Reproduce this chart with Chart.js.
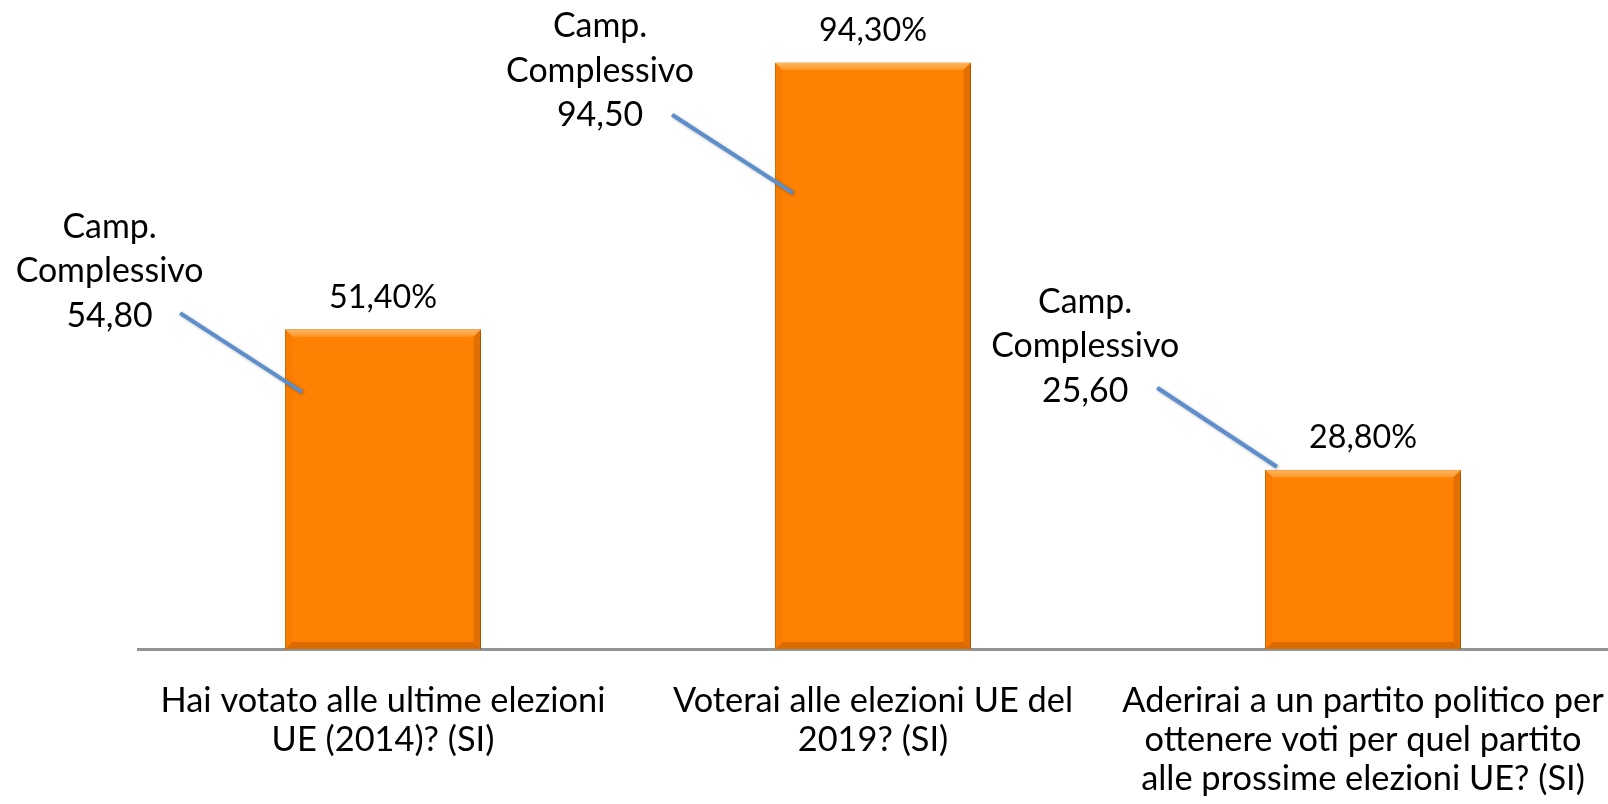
<!DOCTYPE html>
<html><head><meta charset="utf-8">
<script src="https://cdn.jsdelivr.net/npm/chart.js@4.4.0/dist/chart.umd.min.js"></script>
<style>html,body{margin:0;padding:0;background:#fff;overflow:hidden}#wrap{width:1608px;height:804px}</style>
</head><body><div id="wrap"><canvas id="c" width="1608" height="804"></canvas></div>
<script>
// ---- data ----
const categories = [
  ["Hai votato alle ultime elezioni", "UE (2014)? (SI)"],
  ["Voterai alle elezioni UE del", "2019? (SI)"],
  ["Aderirai a un partito politico per", "ottenere voti per quel partito", "alle prossime elezioni UE? (SI)"]
];
const values = [51.4, 94.3, 28.8];            // % of group (bars)
const sampleTotals = [54.8, 94.5, 25.6];      // "Camp. Complessivo" callouts
const calloutCaption = ["Camp.", "Complessivo"];

// ---- callout layout, in scale units (category offset from bar, value) ----
const calloutTextX = [-0.558, -0.557, -0.567];
const calloutTextY = [59.0, 91.2, 46.9];
const leaderStartX = [-0.414, -0.410, -0.420];
const leaderStartY = [54.0, 85.9, 42.0];
const leaderEndX = [-0.165, -0.163, -0.176];
const leaderEndY = [41.3, 73.3, 29.3];

const FONT = 'Lato';
function fit(text, target) {
  const c = document.createElement('canvas').getContext('2d');
  c.font = '100px ' + FONT;
  return 100 * target / c.measureText(text).width;
}
const tickSize = fit("Hai votato alle ultime elezioni", 445);
const calloutSize = fit("Complessivo", 188);
const labelSize = fit("51,40%", 108);
const fmt = v => v.toFixed(2).replace('.', ',');

const deco = {
  id: 'deco',
  beforeDatasetDraw(chart) {
    const ctx = chart.ctx;
    ctx.save();
    ctx.shadowColor = 'rgba(0,0,0,0.35)';
    ctx.shadowBlur = 5;
    ctx.shadowOffsetX = 2;
    ctx.shadowOffsetY = 2;
  },
  afterDatasetDraw(chart) {
    const ctx = chart.ctx;
    ctx.restore();
    const meta = chart.getDatasetMeta(0);
    const bv = 7;
    meta.data.forEach(bar => {
      const {x, y, base, width} = bar.getProps(['x', 'y', 'base', 'width'], true);
      const l = x - width / 2 + 0.5, r = x + width / 2 - 0.5, t = y + 0.5, b = base;
      ctx.save();
      const g = ctx.createLinearGradient(0, t, 0, t + bv);
      g.addColorStop(0, '#FFB45A'); g.addColorStop(1, '#FF982C');
      ctx.fillStyle = g;
      ctx.beginPath(); ctx.moveTo(l, t); ctx.lineTo(r, t); ctx.lineTo(r - bv, t + bv); ctx.lineTo(l + bv, t + bv); ctx.closePath(); ctx.fill();
      ctx.fillStyle = 'rgba(235,115,0,0.35)';
      ctx.beginPath(); ctx.moveTo(l, t); ctx.lineTo(l + bv, t + bv); ctx.lineTo(l + bv, b - bv); ctx.lineTo(l, b); ctx.closePath(); ctx.fill();
      ctx.fillStyle = 'rgba(185,85,0,0.40)';
      ctx.beginPath(); ctx.moveTo(r, t); ctx.lineTo(r - bv, t + bv); ctx.lineTo(r - bv, b - bv); ctx.lineTo(r, b); ctx.closePath(); ctx.fill();
      ctx.fillStyle = 'rgba(175,80,0,0.45)';
      ctx.beginPath(); ctx.moveTo(l, b); ctx.lineTo(l + bv, b - bv); ctx.lineTo(r - bv, b - bv); ctx.lineTo(r, b); ctx.closePath(); ctx.fill();
      ctx.restore();
    });
  },
  afterDatasetsDraw(chart) {
    const ctx = chart.ctx;
    const xs = chart.scales.x, ys = chart.scales.y;
    const meta = chart.getDatasetMeta(0);
    ctx.save();
    // value labels
    ctx.fillStyle = '#000';
    ctx.textAlign = 'center';
    ctx.textBaseline = 'alphabetic';
    ctx.font = labelSize + 'px ' + FONT;
    meta.data.forEach((bar, i) => {
      ctx.fillText(fmt(values[i]) + '%', bar.x, bar.y - 21.5);
    });
    // callouts
    values.forEach((v, i) => {
      ctx.save();
      ctx.shadowColor = 'rgba(0,0,0,0.3)';
      ctx.shadowBlur = 3; ctx.shadowOffsetX = 1; ctx.shadowOffsetY = 1;
      ctx.strokeStyle = '#5B8ECB';
      ctx.lineWidth = 4;
      ctx.beginPath();
      ctx.moveTo(xs.getPixelForValue(i + leaderStartX[i]), ys.getPixelForValue(leaderStartY[i]));
      ctx.lineTo(xs.getPixelForValue(i + leaderEndX[i]), ys.getPixelForValue(leaderEndY[i]));
      ctx.stroke();
      ctx.restore();
      const cx = xs.getPixelForValue(i + calloutTextX[i]);
      const cy = ys.getPixelForValue(calloutTextY[i]);
      ctx.font = calloutSize + 'px ' + FONT;
      const lines = [...calloutCaption, fmt(sampleTotals[i])];
      lines.forEach((t, k) => ctx.fillText(t, cx, cy + (k - 1) * 44.5));
    });
    ctx.restore();
  }
};

new Chart(document.getElementById('c'), {
  type: 'bar',
  data: {
    labels: categories,
    datasets: [{
      data: values,
      backgroundColor: '#FF8103',
      borderColor: '#D87000',
      borderWidth: 1,
      categoryPercentage: 1,
      barPercentage: 0.4
    }]
  },
  options: {
    responsive: false,
    animation: false,
    devicePixelRatio: 1,
    layout: {padding: {left: 138, right: 0, top: 27, bottom: 0}},
    plugins: {legend: {display: false}, tooltip: {enabled: false}},
    scales: {
      x: {
        grid: {display: false, drawTicks: false},
        border: {display: true, color: '#939393', width: 3},
        ticks: {
          color: '#000',
          font: {family: FONT, size: tickSize, lineHeight: '39px'},
          padding: 32.5,
          maxRotation: 0,
          autoSkip: false
        },
        afterFit(s) { s.height = 155; s.paddingLeft = 0; s.paddingRight = 0; }
      },
      y: {display: false, min: 0, max: 100}
    }
  },
  plugins: [deco]
});
</script>
</body></html>
